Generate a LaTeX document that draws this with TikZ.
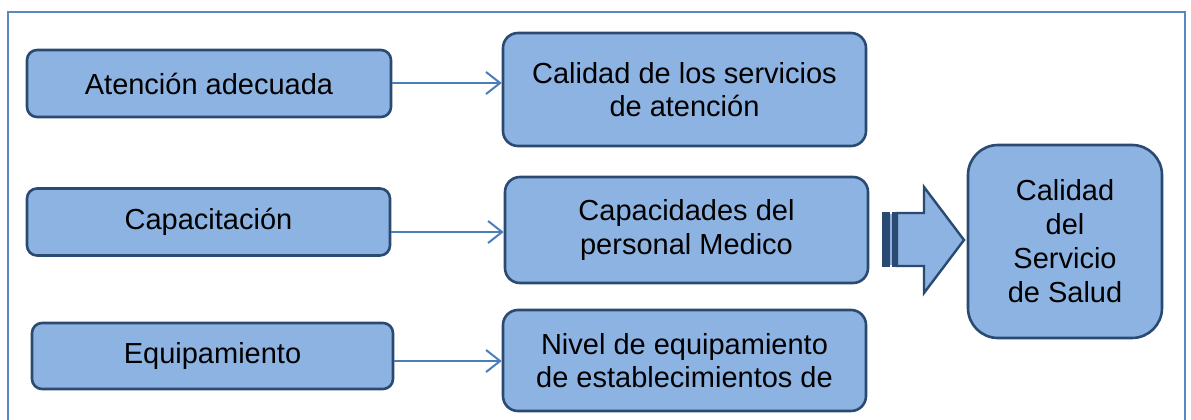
\documentclass[tikz,border=0pt]{standalone}
\usepackage{fontspec}
\setmainfont{Liberation Sans}
\usetikzlibrary{arrows.meta}
\definecolor{boxfill}{HTML}{8DB3E2}
\definecolor{boxline}{HTML}{2A4A72}
\definecolor{linkc}{HTML}{4A7EBB}
\definecolor{framec}{HTML}{5B87C0}
\tikzset{
  srcbox/.style={draw=boxline, fill=boxfill, line width=2.6pt, rounded corners=10pt, inner sep=0pt, font=\fontsize{29}{33}\selectfont},
  midbox/.style={draw=boxline, fill=boxfill, line width=2.6pt, rounded corners=15pt, inner sep=0pt, align=center, font=\fontsize{29}{33}\selectfont},
  bigbox/.style={draw=boxline, fill=boxfill, line width=2.6pt, rounded corners=30pt, inner sep=0pt, align=center, font=\fontsize{29}{34}\selectfont},
  link/.style={draw=linkc, line width=2pt, -{Straight Barb[length=14pt, width=22pt, line width=2pt]}},
}
\begin{document}
\begin{tikzpicture}[x=1pt,y=-1pt]
\useasboundingbox (0,0) rectangle (1191,420);
\draw[framec, line width=2pt] (8,430) -- (8,12) -- (1185,12) -- (1185,430);
% left boxes
\node[srcbox, minimum width=364pt, minimum height=67pt] (a1) at (209,83.5) {Atención adecuada};
\node[srcbox, minimum width=363pt, minimum height=67pt] (a2) at (208.5,222) {Capacitación};
\node[srcbox, minimum width=361pt, minimum height=66pt] (a3) at (212.5,356) {Equipamiento};
% middle boxes
\node[midbox, minimum width=363pt, minimum height=113pt] (b1) at (684.5,89.5) {Calidad de los servicios\\de atención};
\node[midbox, minimum width=363pt, minimum height=106pt] (b2) at (686.5,230) {Capacidades del\\personal Medico};
\node[midbox, minimum width=363pt, minimum height=101pt] (b3) at (684.5,360.5) {Nivel de equipamiento\\de establecimientos de};
% right box
\node[bigbox, minimum width=194pt, minimum height=193pt] (c) at (1065,241.5) {Calidad\\del\\Servicio\\de Salud};
% connectors
\coordinate (s1) at (a1.east |- 0,83);
\coordinate (t1) at (b1.west |- 0,83);
\coordinate (s2) at (a2.east |- 0,232);
\coordinate (t2) at (b2.west |- 0,232);
\coordinate (s3) at (a3.east |- 0,361);
\coordinate (t3) at (b3.west |- 0,361);
\draw[link] (s1) -- (t1);
\draw[link] (s2) -- (t2);
\draw[link] (s3) -- (t3);
% striped block arrow
\fill[boxline] (882,212) rectangle (890,267);
\fill[boxfill] (890,214) rectangle (892,265);
\fill[boxline] (892,212) rectangle (897,267);
\node[coordinate] (arrtip) at (964,240) {};
\draw[boxline, fill=boxfill, line width=2.4pt, line join=miter] (897,213) -- (924,213) -- (924,187) -- (arrtip) -- (924,293) -- (924,266) -- (897,266) -- cycle;
\end{tikzpicture}
\end{document}
